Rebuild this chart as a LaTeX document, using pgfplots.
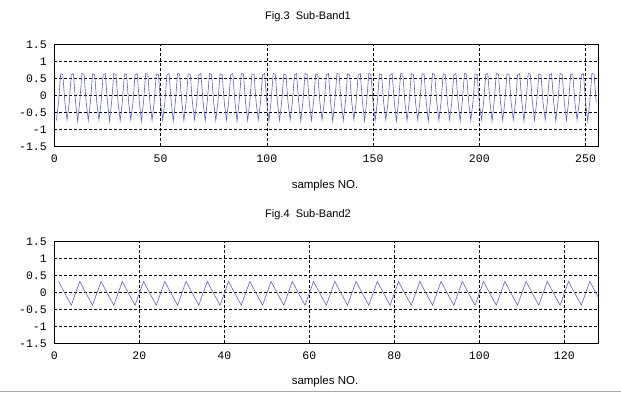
\documentclass[border=0pt]{standalone}
\usepackage{pgfplots}
\pgfplotsset{compat=1.18}
\usepackage{fontspec}
\setmainfont{Liberation Sans}
\newfontfamily\monofont{Liberation Mono}
\definecolor{sig}{RGB}{95,95,215}
\pgfplotsset{
  myax/.style={
    scale only axis, width=544pt, height=102pt,
    anchor=south west,
    ymin=-1.5, ymax=1.5, ytick={-1.5,-1,-0.5,0,0.5,1,1.5},
    yticklabels={{-1.5},{-1},{-0.5},{0},{0.5},{1},{1.5}},
    grid=major,
    major grid style={black, line width=0.6pt, dash pattern=on 3pt off 2pt},
    axis line style={black, line width=0.8pt},
    major tick length=0pt,
    tick label style={font=\monofont\fontsize{11.5}{12}\selectfont},
    /pgf/number format/assume math mode=true,
    yticklabel style={xshift=-4pt},
    xticklabel style={yshift=-5pt},
    clip=true,
  },
  sigline/.style={color=sig, line width=0.6pt, mark=none},
}
\begin{document}
\begin{tikzpicture}[x=1pt,y=1pt]
\path[use as bounding box] (0,0) rectangle (621,393);
\begin{axis}[myax, at={(54.3pt,246.7pt)}, xmin=0, xmax=256,
  xtick={0,50,100,150,200,250}, xticklabels={0,50,100,150,200,250}]
\addplot[sigline] coordinates {
(1,-0.74)(2,-0.20)(3,0.63)(4,0.61)(5,-0.22)
(6,-0.72)(7,-0.23)(8,0.60)(9,0.64)(10,-0.19)
(11,-0.76)(12,-0.18)(13,0.64)(14,0.62)(15,-0.21)
(16,-0.74)(17,-0.20)(18,0.63)(19,0.61)(20,-0.22)
(21,-0.72)(22,-0.23)(23,0.60)(24,0.64)(25,-0.19)
(26,-0.76)(27,-0.18)(28,0.64)(29,0.62)(30,-0.21)
(31,-0.74)(32,-0.20)(33,0.63)(34,0.61)(35,-0.22)
(36,-0.72)(37,-0.23)(38,0.60)(39,0.64)(40,-0.19)
(41,-0.76)(42,-0.18)(43,0.64)(44,0.62)(45,-0.21)
(46,-0.74)(47,-0.20)(48,0.63)(49,0.61)(50,-0.22)
(51,-0.72)(52,-0.23)(53,0.60)(54,0.64)(55,-0.19)
(56,-0.76)(57,-0.18)(58,0.64)(59,0.62)(60,-0.21)
(61,-0.74)(62,-0.20)(63,0.63)(64,0.61)(65,-0.22)
(66,-0.72)(67,-0.23)(68,0.60)(69,0.64)(70,-0.19)
(71,-0.76)(72,-0.18)(73,0.64)(74,0.62)(75,-0.21)
(76,-0.74)(77,-0.20)(78,0.63)(79,0.61)(80,-0.22)
(81,-0.72)(82,-0.23)(83,0.60)(84,0.64)(85,-0.19)
(86,-0.76)(87,-0.18)(88,0.64)(89,0.62)(90,-0.21)
(91,-0.74)(92,-0.20)(93,0.63)(94,0.61)(95,-0.22)
(96,-0.72)(97,-0.23)(98,0.60)(99,0.64)(100,-0.19)
(101,-0.76)(102,-0.18)(103,0.64)(104,0.62)(105,-0.21)
(106,-0.74)(107,-0.20)(108,0.63)(109,0.61)(110,-0.22)
(111,-0.72)(112,-0.23)(113,0.60)(114,0.64)(115,-0.19)
(116,-0.76)(117,-0.18)(118,0.64)(119,0.62)(120,-0.21)
(121,-0.74)(122,-0.20)(123,0.63)(124,0.61)(125,-0.22)
(126,-0.72)(127,-0.23)(128,0.60)(129,0.64)(130,-0.19)
(131,-0.76)(132,-0.18)(133,0.64)(134,0.62)(135,-0.21)
(136,-0.74)(137,-0.20)(138,0.63)(139,0.61)(140,-0.22)
(141,-0.72)(142,-0.23)(143,0.60)(144,0.64)(145,-0.19)
(146,-0.76)(147,-0.18)(148,0.64)(149,0.62)(150,-0.21)
(151,-0.74)(152,-0.20)(153,0.63)(154,0.61)(155,-0.22)
(156,-0.72)(157,-0.23)(158,0.60)(159,0.64)(160,-0.19)
(161,-0.76)(162,-0.18)(163,0.64)(164,0.62)(165,-0.21)
(166,-0.74)(167,-0.20)(168,0.63)(169,0.61)(170,-0.22)
(171,-0.72)(172,-0.23)(173,0.60)(174,0.64)(175,-0.19)
(176,-0.76)(177,-0.18)(178,0.64)(179,0.62)(180,-0.21)
(181,-0.74)(182,-0.20)(183,0.63)(184,0.61)(185,-0.22)
(186,-0.72)(187,-0.23)(188,0.60)(189,0.64)(190,-0.19)
(191,-0.76)(192,-0.18)(193,0.64)(194,0.62)(195,-0.21)
(196,-0.74)(197,-0.20)(198,0.63)(199,0.61)(200,-0.22)
(201,-0.72)(202,-0.23)(203,0.60)(204,0.64)(205,-0.19)
(206,-0.76)(207,-0.18)(208,0.64)(209,0.62)(210,-0.21)
(211,-0.74)(212,-0.20)(213,0.63)(214,0.61)(215,-0.22)
(216,-0.72)(217,-0.23)(218,0.60)(219,0.64)(220,-0.19)
(221,-0.76)(222,-0.18)(223,0.64)(224,0.62)(225,-0.21)
(226,-0.74)(227,-0.20)(228,0.63)(229,0.61)(230,-0.22)
(231,-0.72)(232,-0.23)(233,0.60)(234,0.64)(235,-0.19)
(236,-0.76)(237,-0.18)(238,0.64)(239,0.62)(240,-0.21)
(241,-0.74)(242,-0.20)(243,0.63)(244,0.61)(245,-0.22)
(246,-0.72)(247,-0.23)(248,0.60)(249,0.64)(250,-0.19)
(251,-0.76)(252,-0.18)(253,0.64)(254,0.62)(255,-0.21)
};
\end{axis}
\begin{axis}[myax, at={(54.3pt,49.7pt)}, xmin=0, xmax=128,
  xtick={0,20,40,60,80,100,120}, xticklabels={0,20,40,60,80,100,120}]
\addplot[sigline] coordinates {
(1,0.32)(2,0.08)(3,-0.15)(4,-0.38)(5,-0.03)
(6,0.32)(7,0.08)(8,-0.15)(9,-0.38)(10,-0.03)
(11,0.32)(12,0.08)(13,-0.15)(14,-0.38)(15,-0.03)
(16,0.32)(17,0.08)(18,-0.15)(19,-0.38)(20,-0.03)
(21,0.32)(22,0.08)(23,-0.15)(24,-0.38)(25,-0.03)
(26,0.32)(27,0.08)(28,-0.15)(29,-0.38)(30,-0.03)
(31,0.32)(32,0.08)(33,-0.15)(34,-0.38)(35,-0.03)
(36,0.32)(37,0.08)(38,-0.15)(39,-0.38)(40,-0.03)
(41,0.32)(42,0.08)(43,-0.15)(44,-0.38)(45,-0.03)
(46,0.32)(47,0.08)(48,-0.15)(49,-0.38)(50,-0.03)
(51,0.32)(52,0.08)(53,-0.15)(54,-0.38)(55,-0.03)
(56,0.32)(57,0.08)(58,-0.15)(59,-0.38)(60,-0.03)
(61,0.32)(62,0.08)(63,-0.15)(64,-0.38)(65,-0.03)
(66,0.32)(67,0.08)(68,-0.15)(69,-0.38)(70,-0.03)
(71,0.32)(72,0.08)(73,-0.15)(74,-0.38)(75,-0.03)
(76,0.32)(77,0.08)(78,-0.15)(79,-0.38)(80,-0.03)
(81,0.32)(82,0.08)(83,-0.15)(84,-0.38)(85,-0.03)
(86,0.32)(87,0.08)(88,-0.15)(89,-0.38)(90,-0.03)
(91,0.32)(92,0.08)(93,-0.15)(94,-0.38)(95,-0.03)
(96,0.32)(97,0.08)(98,-0.15)(99,-0.38)(100,-0.03)
(101,0.32)(102,0.08)(103,-0.15)(104,-0.38)(105,-0.03)
(106,0.32)(107,0.08)(108,-0.15)(109,-0.38)(110,-0.03)
(111,0.32)(112,0.08)(113,-0.15)(114,-0.38)(115,-0.03)
(116,0.32)(117,0.08)(118,-0.15)(119,-0.38)(120,-0.03)
(121,0.32)(122,0.08)(123,-0.15)(124,-0.38)(125,-0.03)
(126,0.32)(127,0.08)(128,-0.15)
};
\end{axis}
\node[font=\fontsize{11}{12}\selectfont] at (308,376) {Fig.3\ \ Sub-Band1};
\node[font=\fontsize{11.5}{12}\selectfont] at (325,207) {samples NO.};
\node[font=\fontsize{11}{12}\selectfont] at (308,178) {Fig.4\ \ Sub-Band2};
\node[font=\fontsize{11.5}{12}\selectfont] at (325,11) {samples NO.};
\draw[gray!70, line width=1pt] (0,1.5) -- (621,1.5);
\end{tikzpicture}
\end{document}
